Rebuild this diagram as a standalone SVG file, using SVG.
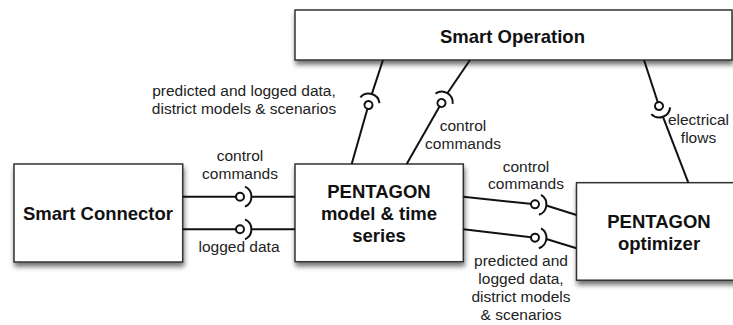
<svg xmlns="http://www.w3.org/2000/svg" xmlns:xlink="http://www.w3.org/1999/xlink" width="733" height="325" viewBox="0 0 733 325">
<style>
.box{fill:#fff;stroke:#333;stroke-width:1.5;filter:url(#sh)}
.title{font-family:"Liberation Sans",Arial,sans-serif;font-weight:bold;font-size:18.5px;fill:#111;text-anchor:middle}
.lbl{font-family:"Liberation Sans",Arial,sans-serif;font-size:15.5px;fill:#222;text-anchor:middle}
.ln{stroke:#111;stroke-width:2;fill:none}
.ball{fill:#fff;stroke:#111;stroke-width:2}
.sock{fill:none;stroke:#111;stroke-width:2}
</style>
<defs>
<filter id="sh" x="-10%" y="-10%" width="130%" height="140%">
<feDropShadow dx="1" dy="4" stdDeviation="2.5" flood-color="#000" flood-opacity="0.55"/>
</filter>
<g id="bs"><circle class="ball" cx="0" cy="0" r="4"/><path class="sock" d="M5,-10 A11 11 0 0 1 5,10"/></g>
</defs>
<rect width="733" height="325" fill="#fff"/>

<g id="smart-operation">
<rect class="box" x="295" y="10" width="437" height="50"/>
<text class="title" x="512.5" y="42.5">Smart Operation</text>
</g>
<g id="smart-connector">
<rect class="box" x="14" y="164" width="168.7" height="98"/>
<text class="title" x="98" y="220">Smart Connector</text>
</g>
<g id="pentagon-model">
<rect class="box" x="295" y="164" width="168.3" height="97.7"/>
<text class="title" x="379" y="197.7">PENTAGON</text>
<text class="title" x="379" y="219.5">model &amp; time</text>
<text class="title" x="379" y="241.7">series</text>
</g>
<g id="pentagon-optimizer">
<rect class="box" x="576.5" y="182.7" width="170" height="97.5"/>
<text class="title" x="659" y="228.3">PENTAGON</text>
<text class="title" x="659" y="250">optimizer</text>
</g>

<g id="connectors">
<!-- Smart Connector <-> PENTAGON model: control commands -->
<line class="ln" x1="182.7" y1="196.7" x2="240" y2="196.7"/>
<line class="ln" x1="251.4" y1="196.7" x2="295" y2="196.7"/>
<use xlink:href="#bs" href="#bs" transform="translate(240,196.7)"/>
<!-- logged data -->
<line class="ln" x1="182.7" y1="229.3" x2="240" y2="229.3"/>
<line class="ln" x1="251.4" y1="229.3" x2="295" y2="229.3"/>
<use xlink:href="#bs" href="#bs" transform="translate(240,229.3)"/>
<!-- model -> optimizer control commands -->
<line class="ln" x1="463.3" y1="196.7" x2="535" y2="204.3"/>
<line class="ln" x1="546.3" y1="205.5" x2="576.5" y2="215"/>
<use xlink:href="#bs" href="#bs" transform="translate(535,204.3) rotate(6)"/>
<!-- model -> optimizer predicted data -->
<line class="ln" x1="463.3" y1="229.3" x2="535" y2="237.7"/>
<line class="ln" x1="546.3" y1="239" x2="576.5" y2="248.3"/>
<use xlink:href="#bs" href="#bs" transform="translate(535,237.7) rotate(6.5)"/>
<!-- model -> smart operation predicted data -->
<line class="ln" x1="351.7" y1="164" x2="368.5" y2="105"/>
<line class="ln" x1="371.8" y1="94.1" x2="383" y2="60"/>
<use xlink:href="#bs" href="#bs" transform="translate(368.5,105) rotate(-73.3)"/>
<!-- model -> smart operation control commands -->
<line class="ln" x1="406.7" y1="164" x2="441.5" y2="103"/>
<line class="ln" x1="447.4" y1="93.2" x2="470" y2="60"/>
<use xlink:href="#bs" href="#bs" transform="translate(441.5,103) rotate(-58.9)"/>
<!-- smart operation -> optimizer electrical flows -->
<line class="ln" x1="644" y1="60" x2="659" y2="106"/>
<line class="ln" x1="662.9" y1="116.7" x2="688.3" y2="182.7"/>
<use xlink:href="#bs" href="#bs" transform="translate(659,106) rotate(70.1)"/>
</g>

<g id="labels">
<text class="lbl" x="244" y="96">predicted and logged data,</text>
<text class="lbl" x="244" y="114">district models &amp; scenarios</text>
<text class="lbl" x="463" y="131">control</text>
<text class="lbl" x="463" y="149">commands</text>
<text class="lbl" x="698.5" y="125">electrical</text>
<text class="lbl" x="698.5" y="143">flows</text>
<text class="lbl" x="240" y="160.5">control</text>
<text class="lbl" x="240" y="178.5">commands</text>
<text class="lbl" x="239" y="252">logged data</text>
<text class="lbl" x="526" y="171.5">control</text>
<text class="lbl" x="526" y="189">commands</text>
<text class="lbl" x="521" y="265.5">predicted and</text>
<text class="lbl" x="521" y="283.5">logged data,</text>
<text class="lbl" x="521" y="301.5">district models</text>
<text class="lbl" x="521" y="319.5">&amp; scenarios</text>
</g>
</svg>
